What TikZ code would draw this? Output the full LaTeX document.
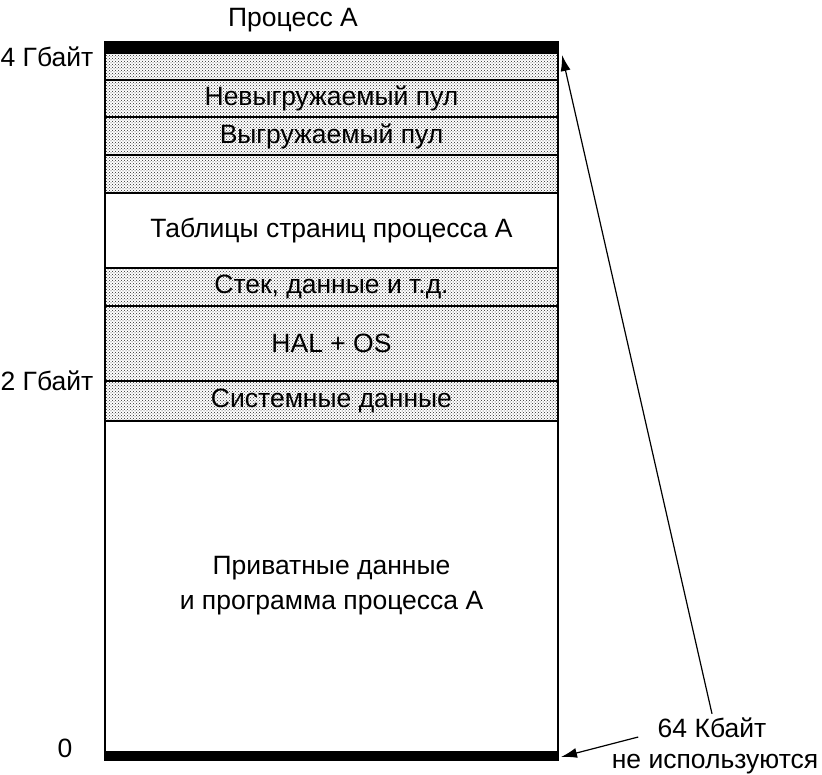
\documentclass[tikz,border=0pt]{standalone}
\usepackage{fontspec}
\setmainfont{Liberation Sans}
\usepackage{tikz}
\usetikzlibrary{positioning,arrows.meta,patterns}

\begin{document}
\begin{tikzpicture}[x=1pt,y=-1pt,
    every node/.style={font=\fontsize{26.5}{30}\selectfont, text=black},
    dotrow/.style={draw, line width=1.2pt, pattern=crosshatch dots, pattern color=black!85},
    plainrow/.style={draw, line width=1.2pt, fill=white},
    ar/.style={-{Latex[length=16pt,width=10pt]}, line width=1.2pt}]
  \useasboundingbox (0,0) rectangle (822,774);
  % address space of process A
  \draw[dotrow]   (105,53)  rectangle (558,80);
  \draw[dotrow]   (105,80)  rectangle (558,117);
  \draw[dotrow]   (105,117) rectangle (558,155);
  \draw[dotrow]   (105,155) rectangle (558,193);
  \draw[plainrow] (105,193) rectangle (558,268);
  \draw[dotrow]   (105,268) rectangle (558,306);
  \draw[dotrow]   (105,306) rectangle (558,381);
  \draw[dotrow]   (105,381) rectangle (558,421);
  \draw[plainrow] (105,421) rectangle (558,752);
  \draw[line width=1.8pt] (105,53) rectangle (558,752);
  \fill (104,41) rectangle (559,53);
  \fill (104,752) rectangle (559,761);
  \node (nonpaged) at (331.5,98.5)  {Невыгружаемый пул};
  \node (paged)    at (331.5,136)   {Выгружаемый пул};
  \node (ptables)  at (331.5,230.5) {Таблицы страниц процесса А};
  \node (stack)    at (331.5,287)   {Стек, данные и т.д.};
  \node (halos)    at (331.5,343.5) {HAL + OS};
  \node (sysdata)  at (331.5,401)   {Системные данные};
  \node[align=center] (private) at (331.5,586)
    {Приватные данные\\[5pt] и программа процесса А};
  % labels
  \node (procA) at (293,20)  {Процесс А};
  \node (gb4)   at (47,57)   {4 Гбайт};
  \node (gb2)   at (47,381)  {2 Гбайт};
  \node[anchor=base] (zero)   at (65,757)  {0};
  \node[anchor=base] (kb64)   at (712,737) {64 Кбайт};
  \node[anchor=base] (unused) at (715,768) {не используются};
  \coordinate (topend) at (562,55);
  \coordinate (botend) at (561,757);
  \draw[ar] (kb64.north) -- (topend);
  \draw[ar] ([xshift=-16pt]kb64.base west) -- (botend);
\end{tikzpicture}
\end{document}
